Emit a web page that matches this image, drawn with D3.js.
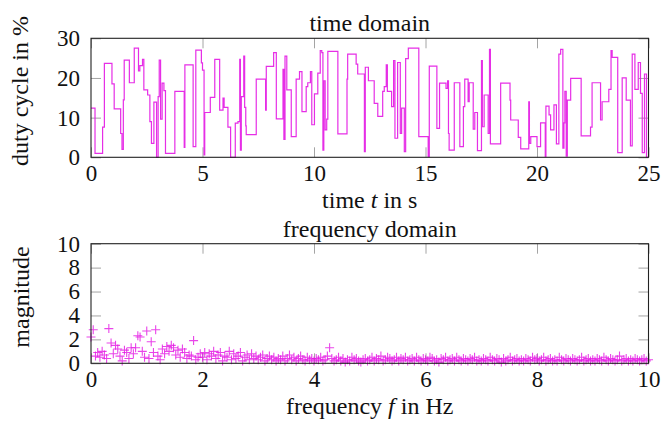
<!DOCTYPE html>
<html><head><meta charset="utf-8">
<script src="https://cdn.jsdelivr.net/npm/d3@7"></script>
<style>body{margin:0;background:#fff;}</style></head>
<body><svg id="c" width="663" height="426"></svg>
<script>
// ---- data ----
const stepTimes = [
 0,0.18,0.52,0.60,0.94,1.04,1.33,1.39,1.45,1.49,
 1.72,1.94,2.13,2.19,2.31,2.37,2.54,2.64,2.71,2.82,
 2.94,3.01,3.06,3.12,3.19,3.27,3.34,3.76,4.18,4.21,
 4.58,4.70,4.95,5.00,5.07,5.10,5.35,5.55,5.77,5.92,
 5.97,6.14,6.26,6.47,6.59,6.67,6.70,6.74,6.85,6.89,
 6.94,6.96,7.41,7.83,7.86,8.19,8.31,8.61,8.65,8.70,
 8.78,8.98,9.20,9.35,9.46,9.65,9.72,9.84,9.90,10.02,
 10.17,10.28,10.35,10.40,10.44,10.50,10.57,10.62,11.07,11.48,
 11.51,11.89,11.96,12.26,12.30,12.44,12.70,12.86,13.08,13.15,
 13.24,13.29,13.48,13.57,13.63,13.75,13.87,13.93,14.05,14.11,
 14.23,14.70,15.12,15.17,15.51,15.63,15.92,15.99,16.03,16.06,
 16.29,16.54,16.70,16.76,16.91,16.96,17.14,17.21,17.33,17.51,
 17.55,17.63,17.81,17.87,17.91,18.37,18.79,18.82,19.16,19.27,
 19.63,19.66,19.72,20.00,20.16,20.37,20.40,20.54,20.61,20.76,
 20.87,20.98,21.06,21.16,21.21,21.25,21.31,21.36,21.51,21.98,
 22.40,22.47,22.85,22.92,23.22,23.32,23.37,23.62,23.82,24.00,
 24.19,24.27,24.39,24.54,24.64,24.72,24.82,24.91
];
const dutyCycle = [
 12.4,1.0,7.6,23.7,18.5,12.2,6.0,2.0,14.5,24.5,
 18.8,27.5,21.8,23.1,24.7,17.0,15.7,9.0,3.5,13.9,
 0,15.3,24.5,9.6,18.7,16.8,1.0,16.6,2.5,23.3,
 2.7,27.0,23.8,22.0,0.6,11.3,15.1,24.7,11.9,14.9,
 12.6,7.6,0,8.6,9.0,24.7,1.8,15.3,25.5,12.6,
 7.9,5.7,19.7,11.9,22.9,26.4,9.7,22.2,4.5,25.5,
 17.0,5.2,19.7,21.6,11.5,17.8,18.8,21.6,8.2,16.0,
 21.2,26.9,26.4,1.8,19.3,6.9,9.6,26.7,5.9,19.7,
 26.0,23.5,21.0,1.4,22.7,19.3,13.6,10.3,16.6,17.8,
 23.3,16.6,12.8,24.4,4.8,23.9,6.0,12.4,1.4,24.9,
 27.5,5.2,0.2,23.0,7.3,18.7,17.4,19.3,6.0,1.8,
 18.8,2.7,12.8,19.7,14.0,18.8,7.1,11.3,1.7,24.4,
 7.7,15.7,6.0,27.2,3.4,18.7,14.4,9.4,5.0,2.1,
 14.0,3.5,5.2,2.7,8.7,0.2,12.9,10.7,6.9,13.2,
 3.4,26.0,27.2,2.3,8.7,16.6,0.3,14.4,19.9,5.4,
 7.6,18.8,9.4,14.0,17.1,26.9,25.2,1.2,20.0,14.4,
 2.9,26.0,17.1,23.9,16.1,1.2,21.0,0
];
const timeEnd = 25;
const freqStep = 0.04; // Hz between spectrum bins
const magnitude = [
 2.2,2.8,0.6,0.9,0.5,1.0,0.7,0.4,2.9,1.7,0.8,1.5,1.2,0.6,0.2,1.1,0.9,0.4,1.3,0.8,1.3,2.3,2.2,1.0,0.5,
 2.7,0.4,1.8,0.9,2.8,0.6,0.3,1.2,0.8,1.4,1.0,1.5,1.3,0.7,1.1,0.5,1.2,0.9,0.4,0.7,0.6,1.9,0.3,0.5,0.8,
 0.5,0.9,0.3,0.8,0.6,1.0,0.4,0.7,0.9,0.2,0.6,0.5,1.0,0.3,0.8,0.4,0.6,0.9,0.2,0.5,0.7,0.3,0.8,0.4,0.6,
 0.3,0.5,0.7,0.2,0.4,0.6,0.3,0.5,0.2,0.4,0.3,0.6,0.2,0.4,0.7,0.3,0.5,0.2,0.4,0.6,0.3,0.2,0.5,0.3,0.4,
 0.2,0.4,0.3,0.5,0.2,0.3,0.6,1.3,0.4,0.2,0.3,0.5,0.2,0.4,0.1,0.3,0.2,0.5,0.3,0.4,0.2,0.1,0.3,0.4,0.2,
 0.3,0.5,0.2,0.4,0.3,0.6,0.2,0.3,0.5,0.4,0.2,0.3,0.5,0.2,0.4,0.3,0.5,0.2,0.3,0.4,0.2,0.5,0.3,0.2,0.4,
 0.3,0.2,0.5,0.4,0.2,0.3,0.1,0.4,0.3,0.5,0.2,0.3,0.4,0.2,0.5,0.3,0.2,0.4,0.3,0.2,0.4,0.3,0.5,0.2,0.3,
 0.2,0.4,0.3,0.2,0.5,0.3,0.2,0.4,0.3,0.1,0.4,0.2,0.3,0.5,0.2,0.3,0.4,0.2,0.3,0.2,0.4,0.3,0.2,0.5,0.3,
 0.4,0.2,0.3,0.5,0.2,0.3,0.4,0.2,0.3,0.2,0.5,0.3,0.2,0.4,0.3,0.2,0.4,0.3,0.2,0.3,0.5,0.2,0.3,0.4,0.2,
 0.3,0.2,0.4,0.3,0.2,0.5,0.3,0.2,0.4,0.3,0.2,0.3,0.6,0.2,0.3,0.4,0.2,0.3,0.2,0.4,0.3,0.2,0.3,0.4,0.2,
 0.3
];
const timeTicks = [0,5,10,15,20,25];
const dutyTicks = [0,10,20,30];
const freqTicks = [0,2,4,6,8,10];
const magTicks = [0,2,4,6,8,10];

// ---- drawing ----
const svg = d3.select("#c");
const FONT = '"Liberation Serif","Times New Roman",serif';
const FS = 23, TFS = 24;
const L = 91, R = 648.5;
const xT = d3.scaleLinear([0,25],[L,R]);
const yT = d3.scaleLinear([0,30],[157.3,38.3]);
const xF = d3.scaleLinear([0,10],[L,R]);
const yF = d3.scaleLinear([0,10],[363.3,243.7]);
const MAG = "#e317e3";

function frame(x, y, xt, yt){
  const g = svg.append("g");
  const tk = 10;
  const ax = [
    [d3.axisBottom(x).tickValues(xt).tickSize(-tk).tickPadding(7.5), `translate(0,${y.range()[0]})`],
    [d3.axisTop(x).tickValues(xt).tickSize(-tk).tickFormat(""), `translate(0,${y.range()[1]})`],
    [d3.axisLeft(y).tickValues(yt).tickSize(-tk).tickPadding(11), `translate(${x.range()[0]},0)`],
    [d3.axisRight(y).tickValues(yt).tickSize(-tk).tickFormat(""), `translate(${x.range()[1]},0)`]
  ];
  ax.forEach(([a,t])=>{
    const s = g.append("g").attr("transform",t).call(a);
    s.select(".domain").remove();
    s.selectAll(".tick line").attr("stroke","#9a9a9a").attr("stroke-width",0.9);
    s.selectAll(".tick text").style("font-size",FS+"px").style("font-family",FONT).attr("fill","#111");
  });
  return g;
}
function border(x,y){
  svg.append("rect").attr("x",x.range()[0]).attr("y",y.range()[1])
    .attr("width",x.range()[1]-x.range()[0]).attr("height",y.range()[0]-y.range()[1])
    .attr("fill","none").attr("stroke","#222").attr("stroke-width",1.1);
}
function label(x,y,parts,rot){
  const t = svg.append("text").attr("text-anchor","middle")
    .style("font-family",FONT).style("font-size",TFS+"px").attr("fill","#111");
  if(rot) t.attr("transform",`translate(${x},${y}) rotate(-90)`); else t.attr("x",x).attr("y",y);
  parts.forEach(p=>{const s=t.append("tspan").text(p[0]); if(p[1]) s.style("font-style","italic");});
}

// top plot
frame(xT,yT,timeTicks,dutyTicks);
const pts = stepTimes.map((t,i)=>[t,dutyCycle[i]]);
pts.push([timeEnd, dutyCycle[dutyCycle.length-1]]);
svg.append("path").datum(pts)
  .attr("d", d3.line().x(d=>xT(d[0])).y(d=>yT(d[1])).curve(d3.curveStepAfter))
  .attr("fill","none").attr("stroke",MAG).attr("stroke-width",1.2).attr("stroke-opacity",0.9);
border(xT,yT);

// bottom plot
frame(xF,yF,freqTicks,magTicks);
const h = 4.5;
svg.append("g").selectAll("path").data(magnitude).join("path")
  .attr("d",(m,i)=>{const cx=xF(i*freqStep), cy=yF(m);
     return `M${cx-h},${cy}H${cx+h}M${cx},${cy-h}V${cy+h}`;})
  .attr("fill","none").attr("stroke",MAG).attr("stroke-width",1.1).attr("stroke-opacity",0.8);
border(xF,yF);

// titles and labels
const cx = (L+R)/2;
label(cx,31,[["time domain"]]);
label(cx,237,[["frequency domain"]]);
label(cx,208,[["time "],["t",true],[" in s"]]);
label(cx,414,[["frequency "],["f",true],[" in Hz"]]);
label(28,91,[["duty cycle in %"]],true);
label(29,297,[["magnitude"]],true);
</script></body></html>
